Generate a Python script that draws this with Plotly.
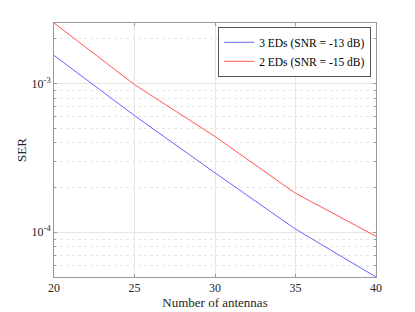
import plotly.graph_objects as go
import numpy as np

antennas = [20, 25, 30, 35, 40]
ser_3eds = [1.55e-3, 6.1e-4, 2.51e-4, 1.05e-4, 5.0e-5]
ser_2eds = [2.56e-3, 9.85e-4, 4.41e-4, 1.83e-4, 9.4e-5]
names = ["3 EDs (SNR = -13 dB)", "2 EDs (SNR = -15 dB)"]
xticks = [20, 25, 30, 35, 40]
yticks = [1e-4, 1e-3]
yticklabels = ["10<sup>-4</sup>", "10<sup>-3</sup>"]

font_family = "Liberation Serif"

fig = go.Figure()
fig.add_trace(go.Scatter(x=antennas, y=ser_3eds, mode="lines", name=names[0],
                         line=dict(color="#6666ff", width=1)))
fig.add_trace(go.Scatter(x=antennas, y=ser_2eds, mode="lines", name=names[1],
                         line=dict(color="#ff5555", width=1)))

ymin = min(ser_3eds + ser_2eds)
ymax = max(ser_3eds + ser_2eds)

fig.update_layout(
    width=407, height=304,
    margin=dict(l=46, r=39, t=15, b=35, autoexpand=False),
    paper_bgcolor="white", plot_bgcolor="white",
    font=dict(family=font_family, size=12, color="#262626"),
    showlegend=True,
    legend=dict(x=0.985, y=0.985, xanchor="right", yanchor="top",
                bgcolor="white", bordercolor="#555555", borderwidth=1,
                font=dict(size=11.5, color="#000000"),
                tracegroupgap=0, itemwidth=30),
)
fig.update_xaxes(
    range=[20, 40], tickvals=xticks, showgrid=True, gridcolor="#e6e6e6", gridwidth=1,
    showline=True, linecolor="#9a9a9a", linewidth=1, mirror="ticks",
    ticks="inside", ticklen=3, tickcolor="#9a9a9a",
    zeroline=False, automargin=False,
    title=dict(text="Number of antennas", standoff=3, font=dict(size=13)),
    tickfont=dict(size=12),
)
fig.update_yaxes(
    type="log", range=[np.log10(ymin), np.log10(ymax)],
    tickvals=yticks, ticktext=yticklabels,
    showgrid=True, gridcolor="#e6e6e6", gridwidth=1,
    showline=True, linecolor="#9a9a9a", linewidth=1, mirror="ticks",
    ticks="inside", ticklen=3, tickcolor="#9a9a9a",
    minor=dict(dtick="D1", showgrid=True, gridcolor="#e6e6e6", griddash="dot",
               ticks="inside", ticklen=2, tickcolor="#9a9a9a"),
    zeroline=False, automargin=False,
    title=dict(text="SER", standoff=2, font=dict(size=13)),
    tickfont=dict(size=12),
)

fig.write_html("out.html")
